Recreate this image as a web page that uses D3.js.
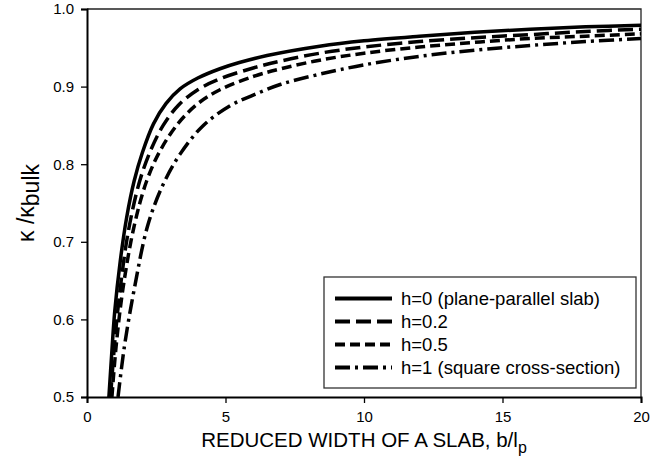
<!DOCTYPE html>
<html lang="en">
    <head>
        <meta charset="utf-8">
        <title>Reduced conductivity of a slab</title>
        <script type="text/javascript" src="https://d3js.org/d3.v7.min.js"></script>
        <style type="text/css">
            body { margin: 0; background: #fff; }
            text { font-family: "Liberation Sans", Arial, sans-serif; fill: #000; }
            .tick text { font-size: 15px; }
        </style>
    </head>
    <body>
        <div id="chart"></div>
        <script type="text/javascript">
            // values
            const xTicks = [0, 5, 10, 15, 20];
            const yTicks = [0.5, 0.6, 0.7, 0.8, 0.9, 1.0];
            const seriesNames = ["h=0 (plane-parallel slab)", "h=0.2", "h=0.5", "h=1 (square cross-section)"];

            const bH0 = [0.79, 0.9, 1.0, 1.2, 1.43, 1.7, 2.0, 2.4, 2.85, 3.36, 4.0, 4.8, 5.5, 6.5, 8.4, 10, 12, 14, 16, 18, 20];
            const kH0 = [0.5, 0.56, 0.61, 0.675, 0.731, 0.778, 0.815, 0.852, 0.878, 0.897, 0.911, 0.923, 0.931, 0.940, 0.952, 0.959, 0.965, 0.970, 0.974, 0.977, 0.979];

            const bH02 = [0.85, 1.0, 1.2, 1.5, 1.9, 2.3, 2.75, 3.3, 4.0, 4.8, 6, 7, 8.4, 10, 12, 14, 16, 18, 20];
            const kH02 = [0.5, 0.57, 0.64, 0.715, 0.778, 0.818, 0.850, 0.876, 0.896, 0.910, 0.924, 0.933, 0.943, 0.951, 0.958, 0.963, 0.967, 0.971, 0.974];

            const bH05 = [0.9, 1.05, 1.3, 1.7, 2.15, 2.65, 3.3, 4.0, 4.8, 6, 7, 8.4, 10, 12, 14, 16, 18, 20];
            const kH05 = [0.5, 0.565, 0.64, 0.72, 0.778, 0.818, 0.853, 0.878, 0.896, 0.913, 0.923, 0.934, 0.943, 0.951, 0.957, 0.962, 0.965, 0.968];

            const bH1 = [1.12, 1.35, 1.7, 2.2, 2.75, 3.36, 4.2, 5.2, 6, 7, 8.4, 10, 12, 14, 16, 18, 20];
            const kH1 = [0.5, 0.565, 0.638, 0.722, 0.774, 0.813, 0.850, 0.876, 0.889, 0.903, 0.916, 0.928, 0.939, 0.947, 0.953, 0.958, 0.962];

            const dashes = ["none", "15,6", "10,5", "15,5,3,5"];

            const series = [[bH0, kH0], [bH02, kH02], [bH05, kH05], [bH1, kH1]].map((s, i) => ({
                name: seriesNames[i],
                dash: dashes[i],
                points: s[0].map((b, j) => [b, s[1][j]])
            }));

            const margin = {top: 9, right: 27, bottom: 75, left: 87};
            const width = 668 - margin.left - margin.right;
            const height = 472 - margin.top - margin.bottom;

            const svg = d3.select("#chart")
                .append("svg")
                .attr("width", 668)
                .attr("height", 472);

            const g = svg.append("g")
                .attr("transform", "translate(" + margin.left + "," + margin.top + ")");

            const xScale = d3.scaleLinear().domain([0, 20]).range([0, width]);
            const yScale = d3.scaleLinear().domain([0.5, 1.0]).range([height, 0]);

            svg.append("defs").append("clipPath")
                .attr("id", "clip")
                .append("rect")
                .attr("width", width)
                .attr("height", height);

            // frame: thin top and right
            g.append("path")
                .attr("d", "M0,0H" + width + "V" + height)
                .attr("fill", "none")
                .attr("stroke", "#222")
                .attr("stroke-width", 1.3);

            const line = d3.line()
                .x(d => xScale(d[0]))
                .y(d => yScale(d[1]))
                .curve(d3.curveCatmullRom.alpha(0.5));

            g.append("g")
                .attr("clip-path", "url(#clip)")
                .selectAll("path")
                .data(series)
                .enter()
                .append("path")
                .attr("d", d => line(d.points))
                .attr("fill", "none")
                .attr("stroke", "#000")
                .attr("stroke-width", 3.5)
                .attr("stroke-dasharray", d => d.dash);

            const xAxis = d3.axisBottom(xScale).tickValues(xTicks).tickFormat(d3.format("d")).tickSizeOuter(0).tickSize(6).tickPadding(8);
            const yAxis = d3.axisLeft(yScale).tickValues(yTicks).tickFormat(d3.format(".1f")).tickSizeOuter(0).tickSize(6).tickPadding(7);

            const gx = g.append("g")
                .attr("transform", "translate(0," + height + ")")
                .call(xAxis);
            const gy = g.append("g").call(yAxis);
            [gx, gy].forEach(a => {
                a.select(".domain").attr("stroke", "#000").attr("stroke-width", 2);
                a.selectAll(".tick line").attr("stroke", "#000").attr("stroke-width", 1.3);
                a.selectAll("text").attr("fill", "#000");
            });

            // legend
            const legend = g.append("g").attr("transform", "translate(237,268)");
            legend.append("rect")
                .attr("width", 312)
                .attr("height", 111)
                .attr("fill", "#fff")
                .attr("stroke", "#333")
                .attr("stroke-width", 1.3);
            const rows = legend.selectAll(".row")
                .data(series)
                .enter()
                .append("g")
                .attr("class", "row")
                .attr("transform", (d, i) => "translate(0," + (21.5 + i * 23) + ")");
            rows.append("line")
                .attr("x1", 11).attr("x2", 68)
                .attr("stroke", "#000")
                .attr("stroke-width", 4)
                .attr("stroke-dasharray", d => d.dash);
            rows.append("text")
                .attr("x", 77)
                .attr("dy", "0.35em")
                .style("font-size", "18.5px")
                .text(d => d.name);

            // axis titles
            const xt = svg.append("text")
                .attr("x", margin.left + width / 2)
                .attr("y", 447)
                .attr("text-anchor", "middle")
                .style("font-size", "20.5px");
            xt.append("tspan").text("REDUCED WIDTH OF A SLAB, b/l");
            xt.append("tspan").attr("dy", 6).style("font-size", "16px").text("p");

            const yt = svg.append("text")
                .attr("transform", "translate(34," + (margin.top + height / 2) + ") rotate(-90)")
                .attr("text-anchor", "middle")
                .style("font-size", "23px");
            yt.append("tspan").text("\u03ba /\u03ba");
            yt.append("tspan").attr("dy", 5).text("bulk");
        </script>
    </body>
</html>
